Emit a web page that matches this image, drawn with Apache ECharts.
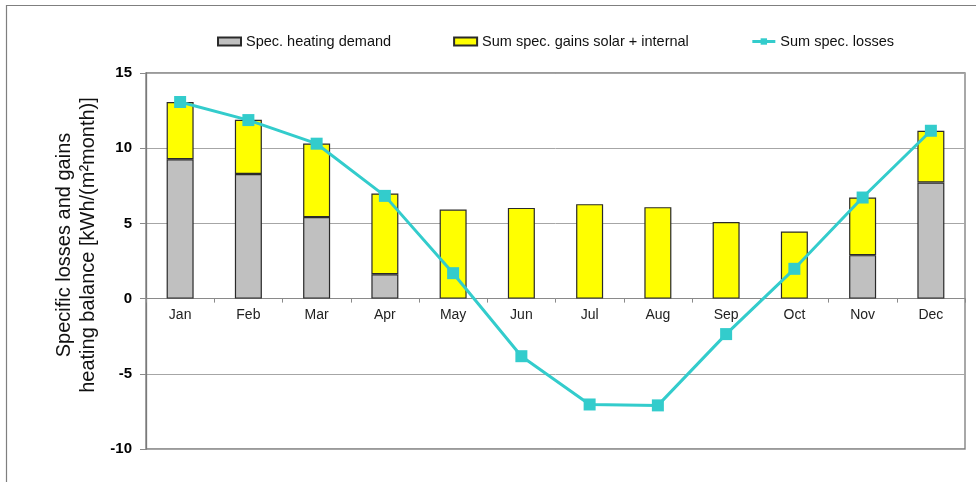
<!DOCTYPE html>
<html>
<head>
<meta charset="utf-8">
<script src="https://cdn.jsdelivr.net/npm/echarts@6/dist/echarts.min.js"></script>
<style>
html,body{margin:0;padding:0;background:#fff;}
#chart{width:976px;height:482px;}
</style>
</head>
<body>
<div id="chart"></div>
<script>
var months = ['Jan','Feb','Mar','Apr','May','Jun','Jul','Aug','Sep','Oct','Nov','Dec'];
var heatingDemand = [9.27, 8.28, 5.42, 1.62, 0, 0, 0, 0, 0, 0, 2.89, 7.72];
var gainsSolarInternal = [3.80, 3.61, 4.89, 5.37, 5.92, 6.03, 6.28, 6.08, 5.09, 4.46, 3.83, 3.44];
var sumLosses = [13.07, 11.87, 10.30, 6.83, 1.69, -3.83, -7.04, -7.10, -2.36, 1.98, 6.72, 11.16];
var yTicks = [-10, -5, 0, 5, 10, 15];
var seriesNames = ['Spec. heating demand', 'Sum spec. gains solar + internal', 'Sum spec. losses'];
var yTitle = ['Specific losses and gains', 'heating balance [kWh/(m\u00B2month)]'];

var FONT = "'Liberation Sans', Arial, sans-serif";
var GRID_TOP = 73, GRID_BOTTOM = 33, CHART_H = 482;
var yMin = yTicks[0], yMax = yTicks[yTicks.length - 1];
var plotH = CHART_H - GRID_TOP - GRID_BOTTOM;
// distance from bottom edge of grid to the zero line (so category axis sits on y = 0)
var zeroOffset = plotH * (0 - yMin) / (yMax - yMin);

var chart = echarts.init(document.getElementById('chart'), null, {renderer: 'canvas'});

var option = {
  backgroundColor: '#fff',
  animation: false,
  textStyle: {fontFamily: FONT},
  grid: {left: 146, right: 11, top: GRID_TOP, bottom: GRID_BOTTOM, show: true, borderColor: '#7a7a7a', borderWidth: 1.3, backgroundColor: 'transparent'},
  legend: {
    left: 212, top: 29,
    itemWidth: 23, itemHeight: 8, itemGap: 62,
    textStyle: {fontFamily: FONT, fontSize: 14.5, color: '#111'},
    data: [
      {name: seriesNames[0], icon: 'rect'},
      {name: seriesNames[1], icon: 'rect'},
      {name: seriesNames[2], lineStyle: {width: 3}}
    ]
  },
  xAxis: {
    type: 'category',
    data: months,
    position: 'bottom',
    offset: -zeroOffset,
    boundaryGap: true,
    axisLine: {onZero: false, lineStyle: {color: '#8a8a8a', width: 1}},
    axisTick: {show: true, length: 4, inside: false, alignWithLabel: false, lineStyle: {color: '#8a8a8a'}},
    axisLabel: {fontFamily: FONT, fontSize: 14, color: '#222', margin: 10}
  },
  yAxis: {
    type: 'value',
    min: yMin, max: yMax, interval: 5,
    axisLine: {show: true, lineStyle: {color: '#7a7a7a', width: 1.3}},
    axisTick: {show: true, length: 6, lineStyle: {color: '#8a8a8a'}},
    splitLine: {show: true, lineStyle: {color: '#a6a6a6', width: 1}},
    axisLabel: {fontFamily: FONT, fontSize: 15, fontWeight: 'bold', color: '#000', margin: 14}
  },
  graphic: [
    {type: 'polyline', silent: true, shape: {points: [[6.5, 482], [6.5, 5.5], [976, 5.5]]}, style: {stroke: '#7f7f7f', lineWidth: 1.2, fill: null}},
    {type: 'text', x: 76, y: 245, rotation: Math.PI / 2,
      style: {text: yTitle.join('\n'), fontFamily: FONT, fontSize: 20, lineHeight: 24, fill: '#111', align: 'center', verticalAlign: 'middle'}}
  ],
  series: [
    {
      name: seriesNames[0], type: 'bar', stack: 'bal', barWidth: 27,
      data: heatingDemand.map(function (v) { return v === 0 ? null : v; }),
      itemStyle: {color: '#C0C0C0', borderColor: '#2a2a2a', borderWidth: 1.2}
    },
    {
      name: seriesNames[1], type: 'bar', stack: 'bal', barWidth: 27,
      data: gainsSolarInternal,
      itemStyle: {color: '#FFFF00', borderColor: '#2a2a2a', borderWidth: 1.2}
    },
    {
      name: seriesNames[2], type: 'line', data: sumLosses, z: 5,
      symbol: 'rect', symbolSize: 12, showSymbol: true,
      lineStyle: {color: '#33CCCC', width: 3},
      itemStyle: {color: '#33CCCC', borderWidth: 0}
    }
  ]
};
chart.setOption(option);
</script>
</body>
</html>
